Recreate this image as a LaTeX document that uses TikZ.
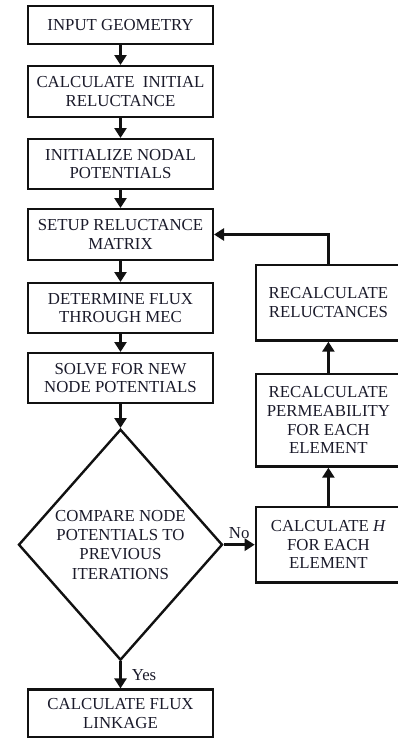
\documentclass[tikz,border=0pt]{standalone}
\usepackage{fontspec}
\setmainfont{Liberation Serif}
\usepackage{xcolor}
\usepackage{tikz}
\usetikzlibrary{positioning,arrows.meta,shapes.geometric}
\definecolor{LineDark}{HTML}{111111}
\definecolor{TextDark}{HTML}{1A1A2A}

\tikzset{
  stepbox/.style={draw=LineDark, line width=2.4pt, align=center, text=TextDark,
        font=\fontsize{16.8pt}{18.6pt}\selectfont, minimum width=184.6pt, inner sep=2pt},
  sidebox/.style={stepbox, minimum width=145pt},
  decision/.style={draw=LineDark, diamond, line width=2.4pt, align=center, text=TextDark,
        font=\fontsize{16.8pt}{19.3pt}\selectfont, minimum width=204pt, minimum height=231pt,
        inner sep=0pt},
  flow/.style={draw=LineDark, line width=2.6pt, -{Triangle[length=10pt,width=12pt]}},
  flowlabel/.style={text=TextDark, font=\fontsize{16.8pt}{18pt}\selectfont, inner sep=1pt}
}

\begin{document}
\begin{tikzpicture}[x=1pt, y=-1pt]
      \useasboundingbox (0,0) rectangle (397,740);

      % main column
      \node[stepbox, minimum height=37.6pt] (geometry) at (120.5,25) {INPUT GEOMETRY};
      \node[stepbox, minimum height=50.6pt, below=20pt of geometry] (initrel)
            {CALCULATE\ \ INITIAL\\RELUCTANCE};
      \node[stepbox, minimum height=49.6pt, below=20pt of initrel] (initpot)
            {INITIALIZE NODAL\\POTENTIALS};
      \node[stepbox, minimum height=50.6pt, below=18pt of initpot] (setup)
            {SETUP RELUCTANCE\\MATRIX};
      \node[stepbox, minimum height=49.6pt, below=21pt of setup] (flux)
            {DETERMINE FLUX\\THROUGH MEC};
      \node[stepbox, minimum height=49.6pt, below=18pt of flux] (solve)
            {SOLVE FOR NEW\\NODE POTENTIALS};
      \node[decision, below=24pt of solve] (compare)
            {COMPARE NODE\\POTENTIALS TO\\PREVIOUS\\ITERATIONS};
      \node[stepbox, minimum height=47.6pt, below=27pt of compare] (linkage)
            {CALCULATE FLUX\\LINKAGE};

      % update loop
      \node[sidebox, minimum height=75.6pt, right=31pt of compare] (calch)
            {CALCULATE \textit{H}\\FOR EACH\\ELEMENT};
      \node[sidebox, minimum height=92.6pt, above=38pt of calch] (perm)
            {RECALCULATE\\PERMEABILITY\\FOR EACH\\ELEMENT};
      \node[sidebox, minimum height=75.6pt, above=31pt of perm] (recalc)
            {RECALCULATE\\RELUCTANCES};

      \draw[flow] (geometry) -- (initrel);
      \draw[flow] (initrel) -- (initpot);
      \draw[flow] (initpot) -- (setup);
      \draw[flow] (setup) -- (flux);
      \draw[flow] (flux) -- (solve);
      \draw[flow] (solve) -- (compare);
      \draw[flow] (compare) -- node[flowlabel, right=9pt] {Yes} (linkage);
      \draw[flow] (compare) -- node[flowlabel, above=4pt] {No} (calch);
      \draw[flow] (calch) -- (perm);
      \draw[flow] (perm) -- (recalc);
      \draw[flow] (recalc.north) |- (setup.east);
    \end{tikzpicture}
\end{document}
